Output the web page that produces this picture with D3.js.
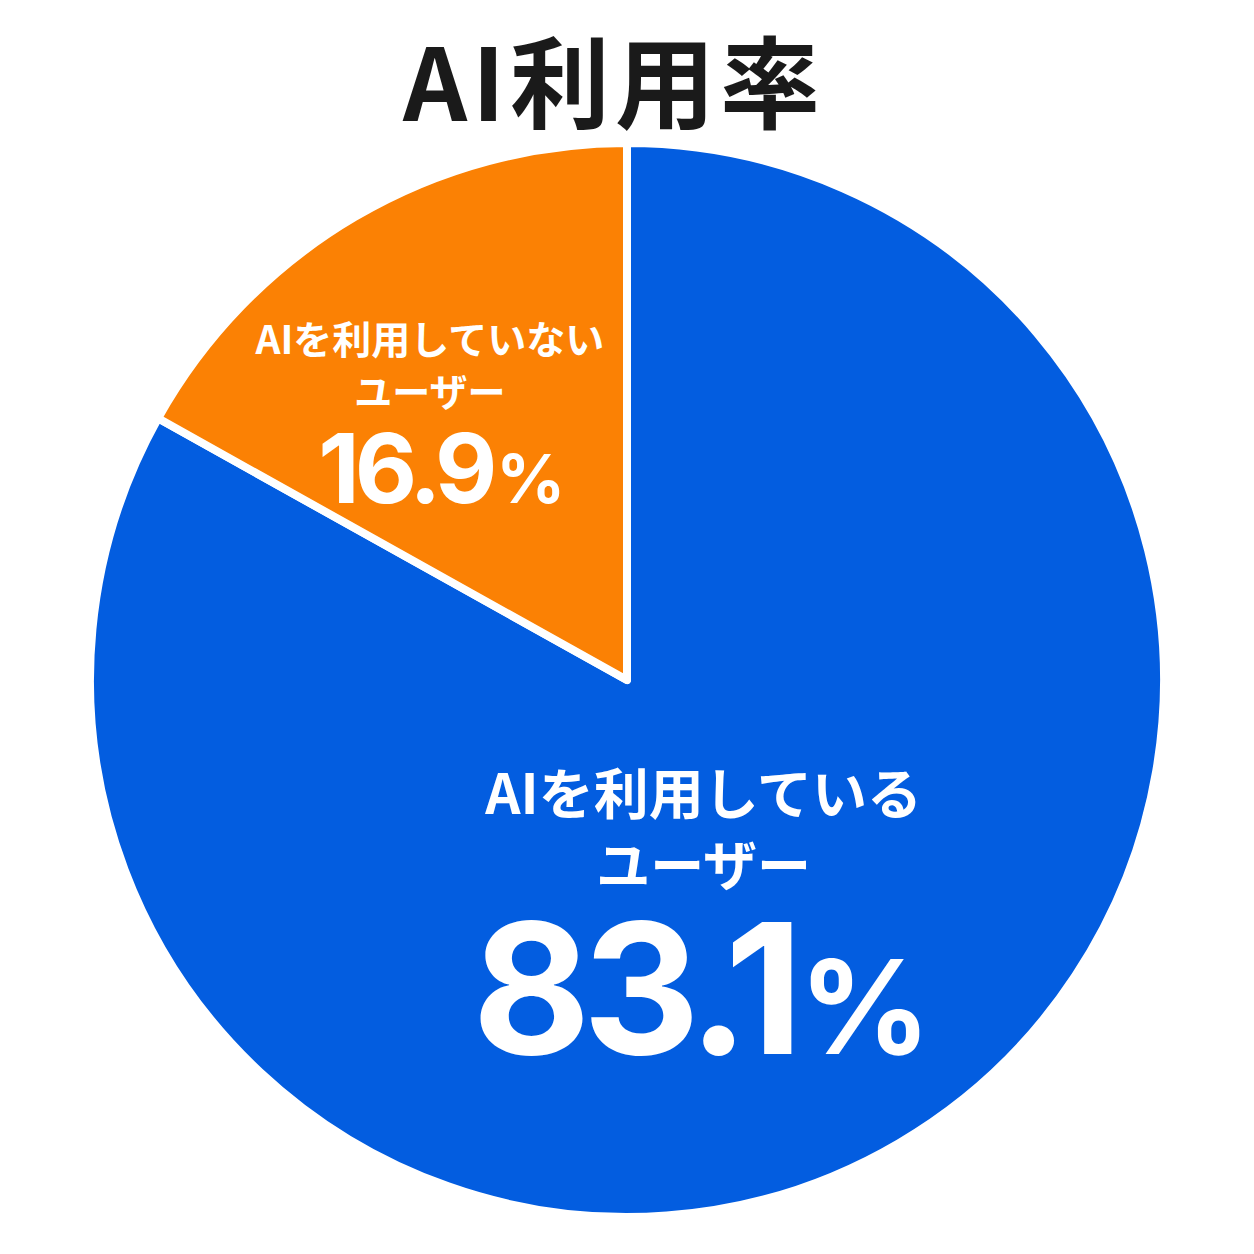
<!DOCTYPE html>
<html>
<head>
<meta charset="utf-8">
<script src="https://cdn.jsdelivr.net/npm/d3@7"></script>
<style>
  html, body { margin: 0; padding: 0; background: #ffffff; }
  text { font-family: "Noto Sans CJK JP", "Noto Sans", sans-serif; font-weight: 700; }
</style>
</head>
<body>
<div id="chart"></div>
<script>
// データ
const title = 'AI利用率';
const categories = ['AIを利用している', 'AIを利用していない'];
const subLabels = ['ユーザー', 'ユーザー'];
const values = [83.1, 16.9];
const colors = ['#035de0', '#fb8104'];

const width = 1254, height = 1254;
const cx = 627, cy = 680, radius = 537;

const svg = d3.select('#chart')
    .append('svg')
    .attr('width', width)
    .attr('height', height);

// タイトル
svg.append('text')
    .attr('x', 614)
    .attr('y', 121)
    .attr('text-anchor', 'middle')
    .style('font-size', '100px')
    .style('font-weight', 700)
    .style('letter-spacing', '5px')
    .style('fill', '#1a1a1a')
    .text(title);

const pie = d3.pie().sort(null).startAngle(0).endAngle(2 * Math.PI);
const arcs = pie(values);
const arc = d3.arc().innerRadius(0).outerRadius(radius);

const g = svg.append('g').attr('transform', `translate(${cx},${cy})`);

// 扇形
g.selectAll('path')
    .data(arcs)
    .enter()
    .append('path')
    .attr('d', arc)
    .attr('fill', (d, i) => colors[i])
    .attr('stroke', '#ffffff')
    .attr('stroke-width', 8)
    .attr('stroke-linejoin', 'round');

// ラベル配置 (扇形の重心からのずれ)
const labelParams = [
    { r: 260, dx: -55, dy: -90, f1: 55, f2: 54, num: 182, pct: 130, gap1: 72, gap2: 240, numSpacing: -8, numDx: -2 },
    { r: 340, dx: -25, dy: -33, f1: 39, f2: 38, num: 96, pct: 68, gap1: 52, gap2: 149, numSpacing: -5, numDx: 12 },
];

const labelG = g.selectAll('g.label')
    .data(arcs)
    .enter()
    .append('g')
    .attr('class', 'label')
    .attr('transform', (d, i) => {
        const p = labelParams[i];
        const c = d3.arc().innerRadius(p.r).outerRadius(p.r).centroid(d);
        return `translate(${c[0] + p.dx},${c[1] + p.dy})`;
    })
    .style('fill', '#ffffff')
    .attr('text-anchor', 'middle');

labelG.append('text')
    .style('font-size', (d, i) => labelParams[i].f1 + 'px')
    .text((d, i) => categories[i]);

labelG.append('text')
    .attr('y', (d, i) => labelParams[i].gap1)
    .style('font-size', (d, i) => labelParams[i].f2 + 'px')
    .text((d, i) => subLabels[i]);

const numText = labelG.append('text')
    .attr('x', (d, i) => labelParams[i].numDx)
    .attr('y', (d, i) => labelParams[i].gap2)
    .style('font-family', 'Inter, "Noto Sans", sans-serif');
numText.append('tspan')
    .style('font-size', (d, i) => labelParams[i].num + 'px')
    .style('letter-spacing', (d, i) => labelParams[i].numSpacing + 'px')
    .text(d => d.data.toFixed(1));
numText.append('tspan')
    .attr('dx', 4)
    .style('font-size', (d, i) => labelParams[i].pct + 'px')
    .text('%');
</script>
</body>
</html>
